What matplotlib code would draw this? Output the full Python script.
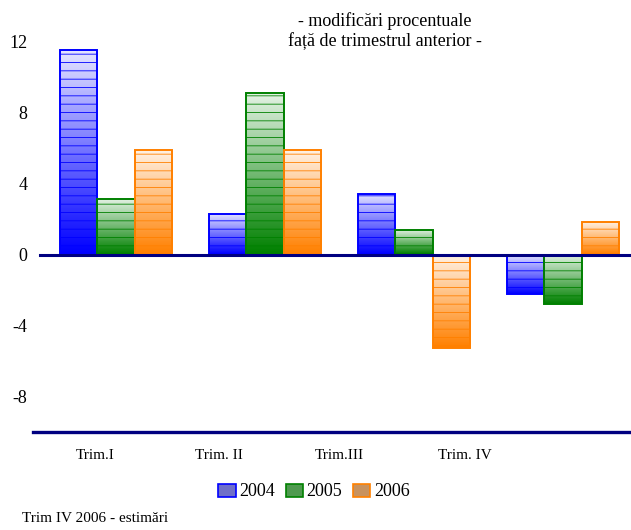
import matplotlib
matplotlib.use("Agg")
import matplotlib.pyplot as plt
import numpy as np
from matplotlib.colors import to_rgb
from matplotlib.patches import Rectangle

plt.rcParams.update({
    "font.family": "serif",
    "font.serif": ["Liberation Serif", "DejaVu Serif"],
    "hatch.color": "#5a5a5a",
    "hatch.linewidth": 0.6,
})

# ---------- data ----------
quarters = ["Trim.I", "Trim. II", "Trim.III", "Trim. IV"]
years = ["2004", "2005", "2006"]
v2004 = [11.5, 2.3, 3.4, -2.2]
v2005 = [3.1, 9.1, 1.4, -2.8]
v2006 = [5.9, 5.9, -5.25, 1.85]
yticks = [-8, -4, 0, 4, 8, 12]

COLORS = ["#0000ff", "#008000", "#ff8000"]
LEGEND_FILL = ["#6f6fc8", "#4f9a4f", "#c8925e"]
# the category labels in the original sit left of the bar groups
LABEL_SHIFT = [-0.14, -0.31, -0.50, -0.66]

fig = plt.figure(figsize=(6.31, 5.30), dpi=100)
ax = fig.add_axes([33 / 631, (530 - 432) / 530, 598 / 631, 426 / 530])

x = np.arange(len(quarters))
width = 0.25


def gradient_bar(ax, xc, h, color):
    base = np.array(to_rgb(color))
    light = 0.1 * base + 0.9
    t = np.linspace(0, 1, 64)[:, None]
    img = light * (1 - t) + base * t  # top light -> bottom saturated
    img = img[:, None, :].repeat(2, axis=1)
    bottom, top = min(0, h), max(0, h)
    left = xc - width / 2
    rect = Rectangle((left, bottom), width, top - bottom, facecolor="none",
                     edgecolor=color, linewidth=1.4, hatch="--", zorder=3)
    ax.add_patch(rect)
    im = ax.imshow(img, extent=(left, left + width, bottom, top),
                   aspect="auto", origin="upper", zorder=2,
                   interpolation="bilinear")
    im.set_clip_path(rect)


for k, vals in enumerate([v2004, v2005, v2006]):
    for i, v in enumerate(vals):
        gradient_bar(ax, x[i] + (k - 1) * width, v, COLORS[k])

ax.set_xlim(-0.557, 3.456)
ax.set_ylim(-10, 14)

ax.axhline(0, xmin=7 / 598, xmax=1, color="#000080", linewidth=2.2, zorder=4)

for s in ["top", "right", "left"]:
    ax.spines[s].set_visible(False)
ax.spines["bottom"].set_color("#000080")
ax.spines["bottom"].set_linewidth(2.4)

ax.set_yticks(yticks)
ax.set_yticklabels([str(t) for t in yticks], fontsize=13)
ax.tick_params(axis="y", length=0, pad=4)
ax.set_xticks(x + np.array(LABEL_SHIFT))
ax.set_xticklabels(quarters, fontsize=11)
ax.tick_params(axis="x", length=0, pad=12)

# legend
handles = [Rectangle((0, 0), 1, 1, facecolor=f, edgecolor=c, linewidth=1.2)
           for f, c in zip(LEGEND_FILL, COLORS)]
fig.legend(handles, years, loc="center", bbox_to_anchor=(314 / 631, 1 - 492 / 530),
           ncol=3, frameon=False, fontsize=13, handlelength=0.95,
           handleheight=0.7, handletextpad=0.2, columnspacing=0.6)

fig.text(385 / 631, 1 - 21 / 530, "- modificări procentuale", ha="center",
         va="center", fontsize=13)
fig.text(385 / 631, 1 - 41 / 530, "față de trimestrul anterior -", ha="center",
         va="center", fontsize=13)
fig.text(22 / 631, 1 - 519 / 530, "Trim IV 2006 - estimări", ha="left",
         va="center", fontsize=11)

fig.savefig("out.png", dpi=100)
